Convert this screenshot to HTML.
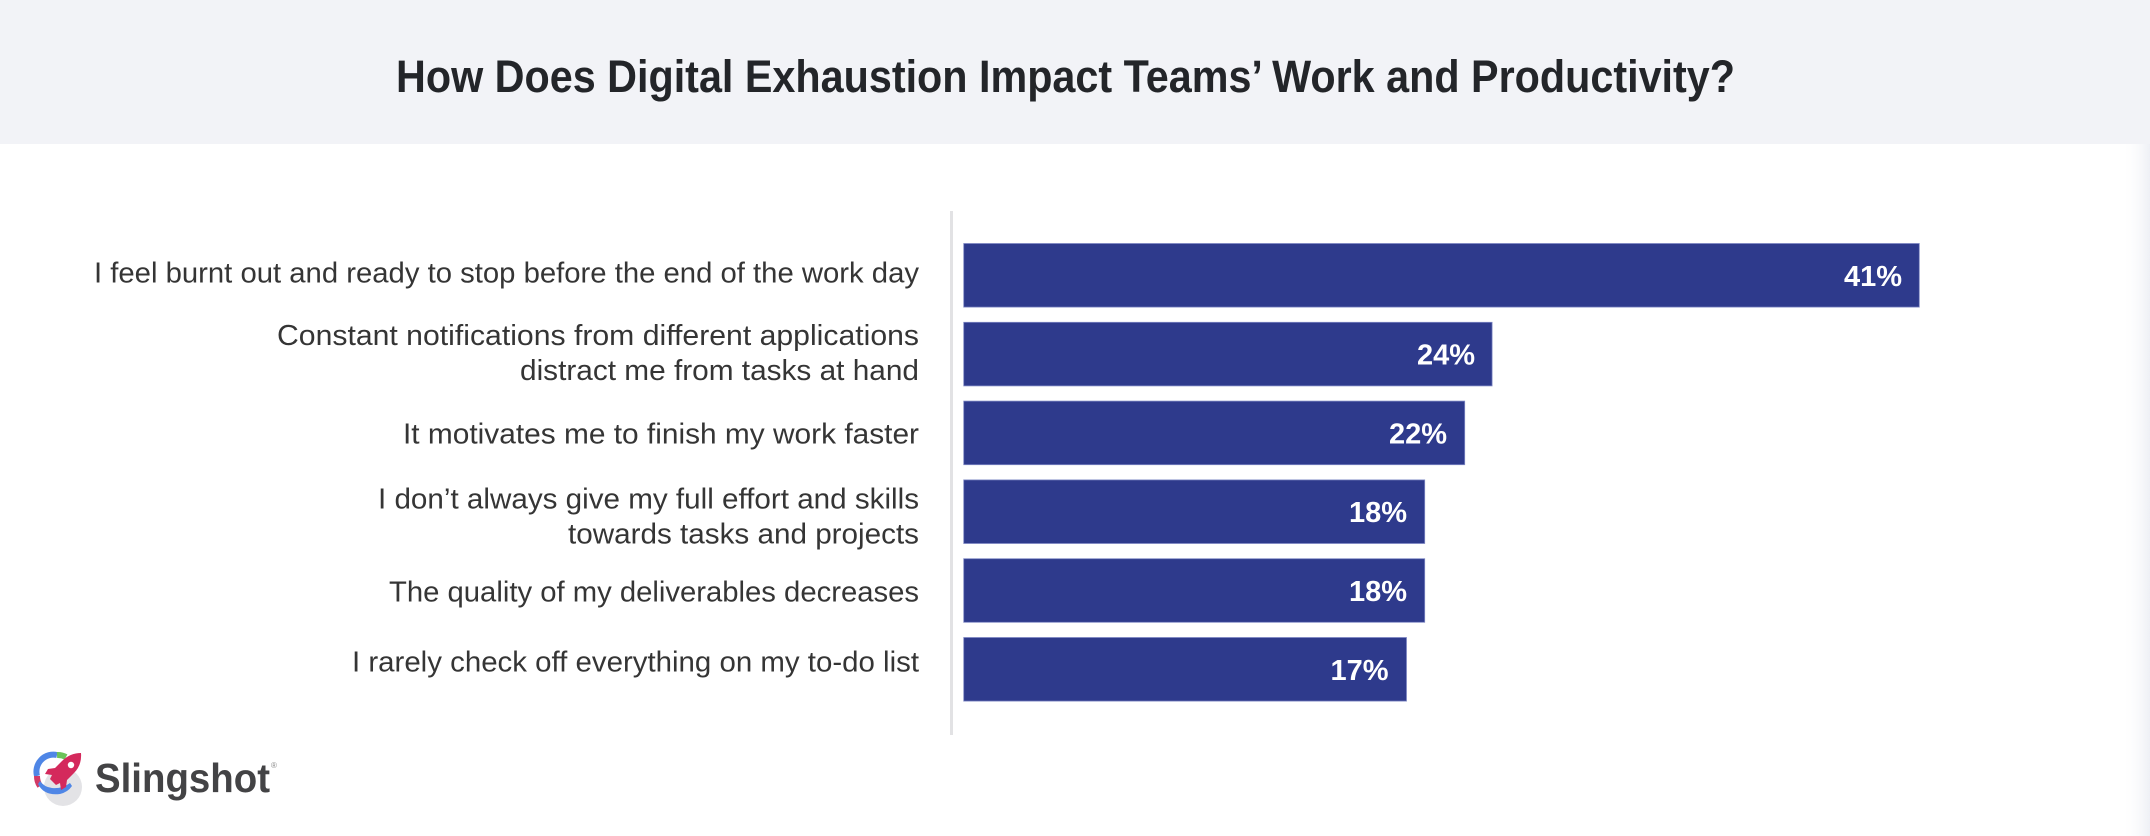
<!DOCTYPE html>
<html>
<head>
<meta charset="utf-8">
<style>
  html, body { margin: 0; padding: 0; background: #ffffff; }
  body { width: 2150px; height: 836px; overflow: hidden; }
  svg { display: block; }
  .t { font-family: "Liberation Sans", Arial, sans-serif; }
</style>
</head>
<body>
<svg width="2150" height="836" viewBox="0 0 2150 836" xmlns="http://www.w3.org/2000/svg">
  <defs>
    <linearGradient id="edge" x1="0" x2="1" y1="0" y2="0">
      <stop offset="0" stop-color="#ffffff" stop-opacity="0"/>
      <stop offset="1" stop-color="#eef0f5" stop-opacity="1"/>
    </linearGradient>
  </defs>
  <!-- backgrounds -->
  <rect x="0" y="0" width="2150" height="836" fill="#ffffff"/>
  <rect x="0" y="0" width="2150" height="144" fill="#f2f3f7"/>
  <rect x="2122" y="144" width="28" height="692" fill="url(#edge)"/>

  <!-- title -->
  <text class="t" x="1065.5" y="92" text-anchor="middle" font-size="45" font-weight="bold" fill="#232529" textLength="1339" lengthAdjust="spacingAndGlyphs">How Does Digital Exhaustion Impact Teams’ Work and Productivity?</text>

  <!-- axis line -->
  <rect x="950" y="211" width="3" height="524" fill="#e2e2e4"/>

  <!-- bars -->
  <g fill="#2e3a8c" stroke="#7f88c4" stroke-width="0.8">
    <rect x="963.7" y="243.5" width="955.6" height="63.6"/>
    <rect x="963.7" y="322.3" width="528.4" height="63.6"/>
    <rect x="963.7" y="401.1" width="501.0" height="63.6"/>
    <rect x="963.7" y="479.9" width="461.0" height="63.6"/>
    <rect x="963.7" y="558.7" width="461.0" height="63.6"/>
    <rect x="963.7" y="637.5" width="442.8" height="63.6"/>
  </g>

  <!-- value labels -->
  <g class="t" font-size="29" font-weight="bold" fill="#ffffff" text-anchor="end">
    <text x="1902" y="285.8">41%</text>
    <text x="1475" y="364.6">24%</text>
    <text x="1447" y="443.4">22%</text>
    <text x="1407" y="522.2">18%</text>
    <text x="1407" y="601.0">18%</text>
    <text x="1388.5" y="679.8">17%</text>
  </g>

  <!-- category labels -->
  <g class="t" font-size="29" fill="#353535" text-anchor="end">
    <text x="919" y="282.7" textLength="825" lengthAdjust="spacingAndGlyphs">I feel burnt out and ready to stop before the end of the work day</text>
    <text x="919" y="345" textLength="642" lengthAdjust="spacingAndGlyphs">Constant notifications from different applications</text>
    <text x="919" y="380" textLength="399" lengthAdjust="spacingAndGlyphs">distract me from tasks at hand</text>
    <text x="919" y="443.3" textLength="516" lengthAdjust="spacingAndGlyphs">It motivates me to finish my work faster</text>
    <text x="919" y="508.3" textLength="541" lengthAdjust="spacingAndGlyphs">I don’t always give my full effort and skills</text>
    <text x="919" y="543.3" textLength="351" lengthAdjust="spacingAndGlyphs">towards tasks and projects</text>
    <text x="919" y="601.7" textLength="530" lengthAdjust="spacingAndGlyphs">The quality of my deliverables decreases</text>
    <text x="919" y="671.7" textLength="567" lengthAdjust="spacingAndGlyphs">I rarely check off everything on my to-do list</text>
  </g>

  <!-- logo icon -->
  <g>
    <circle cx="63" cy="787" r="19" fill="#e3e3e6"/>
    <!-- blue ring arc -->
    <path d="M 57 755 A 17 17 0 0 0 37 776" fill="none" stroke="#4f86e6" stroke-width="6"/>
    <!-- red part of ring on left -->
    <path d="M 37 776 A 17 17 0 0 0 40 786" fill="none" stroke="#d23a66" stroke-width="6"/>
    <!-- blue bottom swoosh -->
    <path d="M 38 784 Q 44 796 60 794 Q 68 792 72 786 L 70 783 Q 62 789 52 788 Q 44 787 40 781 Z" fill="#4f86e6"/>
    <!-- green top -->
    <path d="M 57 755 A 17 17 0 0 1 66 757" fill="none" stroke="#6cc25a" stroke-width="6"/>
    <!-- rocket -->
    <path d="M 81 753 Q 70 753 62 761 L 55 768 L 48 769 L 45 774 L 52 775 L 50 779 L 56 785 L 60 783 L 61 790 L 66 787 L 67 780 L 74 773 Q 82 765 81 753 Z" fill="#d4295c"/>
    <circle cx="71" cy="765" r="3.2" fill="#ffffff"/>
  </g>
  <!-- logo text -->
  <text class="t" x="95" y="792" font-size="41" font-weight="bold" fill="#434345" textLength="175" lengthAdjust="spacingAndGlyphs">Slingshot</text>
  <text class="t" x="271" y="768" font-size="8" fill="#8a8a8a">®</text>
</svg>
</body>
</html>
